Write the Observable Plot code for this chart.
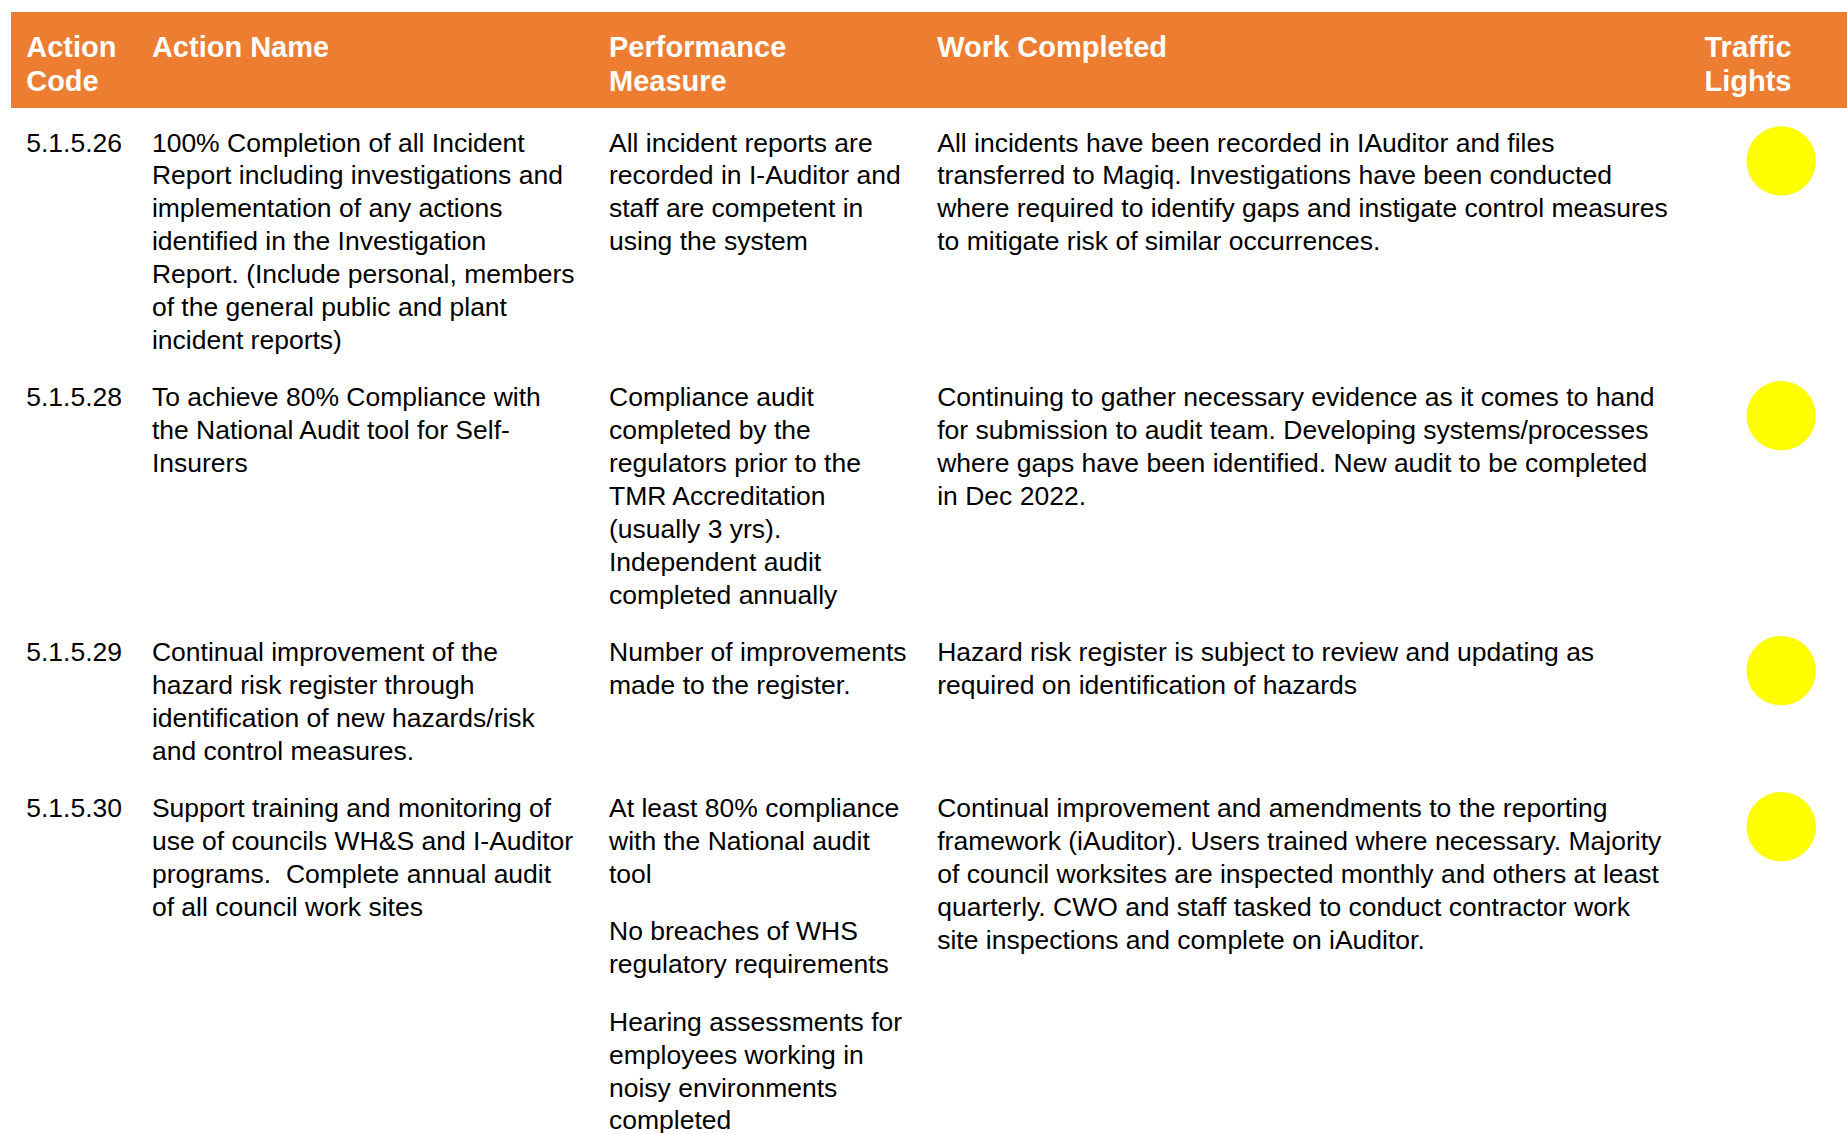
<!DOCTYPE html>
<html>
<head>
<meta charset="utf-8">
<script src="https://cdn.jsdelivr.net/npm/d3@7"></script>
<script src="https://cdn.jsdelivr.net/npm/@observablehq/plot@0.6"></script>
<style>
  html, body { margin: 0; padding: 0; background: #ffffff; }
  #chart svg { display: block; }
</style>
</head>
<body>
<div id="chart"></div>
<script>
// ---------- DATA ----------
const headers = [["Action", "Code"], ["Action Name"], ["Performance", "Measure"], ["Work Completed"], ["Traffic", "Lights"]];

const codes = ["5.1.5.26", "5.1.5.28", "5.1.5.29", "5.1.5.30"];

const actionNames = [
  ["100% Completion of all Incident", "Report including investigations and", "implementation of any actions", "identified in the Investigation", "Report. (Include personal, members", "of the general public and plant", "incident reports)"],
  ["To achieve 80% Compliance with", "the National Audit tool for Self-", "Insurers"],
  ["Continual improvement of the", "hazard risk register through", "identification of new hazards/risk", "and control measures."],
  ["Support training and monitoring of", "use of councils WH&S and I-Auditor", "programs.  Complete annual audit", "of all council work sites"]
];

const performanceMeasures = [
  [["All incident reports are", "recorded in I-Auditor and", "staff are competent in", "using the system"]],
  [["Compliance audit", "completed by the", "regulators prior to the", "TMR Accreditation", "(usually 3 yrs).", "Independent audit", "completed annually"]],
  [["Number of improvements", "made to the register."]],
  [["At least 80% compliance", "with the National audit", "tool"], ["No breaches of WHS", "regulatory requirements"], ["Hearing assessments for", "employees working in", "noisy environments", "completed"]]
];

const workCompleted = [
  ["All incidents have been recorded in IAuditor and files", "transferred to Magiq. Investigations have been conducted", "where required to identify gaps and instigate control measures", "to mitigate risk of similar occurrences."],
  ["Continuing to gather necessary evidence as it comes to hand", "for submission to audit team. Developing systems/processes", "where gaps have been identified. New audit to be completed", "in Dec 2022."],
  ["Hazard risk register is subject to review and updating as", "required on identification of hazards"],
  ["Continual improvement and amendments to the reporting", "framework (iAuditor). Users trained where necessary. Majority", "of council worksites are inspected monthly and others at least", "quarterly. CWO and staff tasked to conduct contractor work", "site inspections and complete on iAuditor."]
];

const trafficLights = ["#FFFF00", "#FFFF00", "#FFFF00", "#FFFF00"];

// ---------- LAYOUT ----------
const W = 1847, H = 1133;
const colX = [25.7, 151.4, 608.5, 936.7, 1704];
const lightX = 1780.7;
const headerTop = 12, headerBottom = 108, headerLeft = 11;
const headerBaseline = 56, headerLineH = 34.7;
const firstBaseline = 151, lineH = 32.9, paraGap = 24.5;
const lightOffset = 9.5;

// build line records
const headerLines = [];
headers.forEach((h, c) => h.forEach((t, i) => headerLines.push({x: colX[c], y: headerBaseline + i * headerLineH, text: t})));

const bodyLines = [];
const lights = [];
let rowY = firstBaseline;
codes.forEach((code, r) => {
  const heights = [];
  bodyLines.push({x: colX[0], y: rowY, text: code});
  heights.push(1);
  actionNames[r].forEach((t, i) => bodyLines.push({x: colX[1], y: rowY + i * lineH, text: t}));
  heights.push(actionNames[r].length);
  let yy = rowY, used = 0;
  performanceMeasures[r].forEach((para, p) => {
    if (p > 0) yy += paraGap;
    para.forEach((t) => { bodyLines.push({x: colX[2], y: yy, text: t}); yy += lineH; });
  });
  const perfSpan = yy - rowY;
  workCompleted[r].forEach((t, i) => bodyLines.push({x: colX[3], y: rowY + i * lineH, text: t}));
  heights.push(workCompleted[r].length);
  lights.push({x: lightX, y: rowY + lightOffset, color: trafficLights[r]});
  const span = Math.max(perfSpan, d3.max(heights) * lineH);
  rowY += span + paraGap;
});

const chart = Plot.plot({
  width: W,
  height: H,
  margin: 0,
  x: {type: "linear", domain: [0, W], range: [0, W], axis: null},
  y: {type: "linear", domain: [0, H], range: [0, H], axis: null},
  style: {background: "#ffffff"},
  marks: [
    Plot.rect([{x1: headerLeft, x2: W, y1: headerTop, y2: headerBottom}], {x1: "x1", x2: "x2", y1: "y1", y2: "y2", fill: "#ED7D31"}),
    Plot.text(headerLines, {x: "x", y: "y", text: "text", textAnchor: "start", lineAnchor: "bottom", fill: "#ffffff", fontSize: 29, fontWeight: "bold", fontFamily: "Liberation Sans, Arial, sans-serif"}),
    Plot.text(bodyLines, {x: "x", y: "y", text: "text", textAnchor: "start", lineAnchor: "bottom", fill: "#000000", fontSize: 26.5, fontFamily: "Liberation Sans, Arial, sans-serif"}),
    Plot.dot(lights, {x: "x", y: "y", r: 34.7, fill: "color", stroke: null})
  ]
});
document.getElementById("chart").appendChild(chart);
</script>
</body>
</html>
